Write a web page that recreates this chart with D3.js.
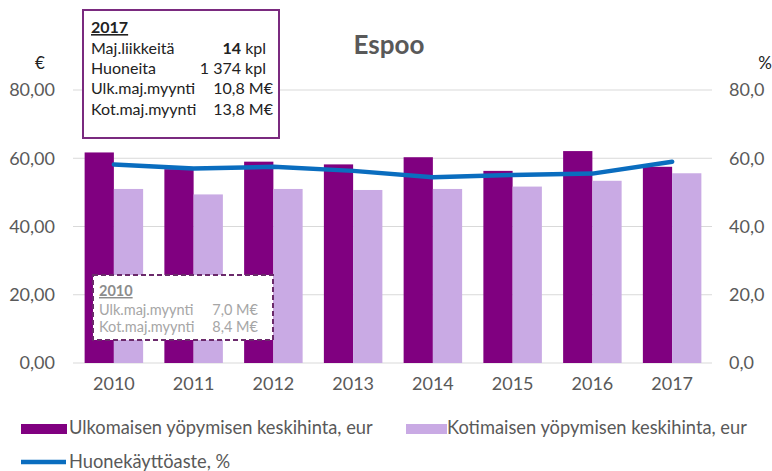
<!DOCTYPE html>
<html><head><meta charset="utf-8">
<script src="https://cdn.jsdelivr.net/npm/d3@7/dist/d3.min.js"></script>
<style>
body{margin:0;background:#fff;}
svg text{font-family:Lato,"Open Sans",sans-serif;}
</style></head>
<body><svg id="c" width="772" height="471"></svg>
<script>
const years = ["2010","2011","2012","2013","2014","2015","2016","2017"];
const foreignPrice = [61.7, 56.8, 59.0, 58.2, 60.3, 56.3, 62.1, 57.5];
const domesticPrice = [51.0, 49.4, 51.0, 50.7, 51.0, 51.7, 53.4, 55.6];
const occupancy = [58.2, 57.0, 57.5, 56.3, 54.4, 55.1, 55.5, 59.0];
const leftTicks = [0, 20, 40, 60, 80];
const rightTicks = [0, 20, 40, 60, 80];
const seriesNames = ["Ulkomaisen yöpymisen keskihinta, eur", "Kotimaisen yöpymisen keskihinta, eur", "Huonekäyttöaste, %"];
const box2017 = [["Maj.liikkeitä", "14", " kpl"], ["Huoneita", "", "1 374 kpl"], ["Ulk.maj.myynti", "", "10,8 M€"], ["Kot.maj.myynti", "", "13,8 M€"]];
const box2010 = [["Ulk.maj.myynti", "7,0 M€"], ["Kot.maj.myynti", "8,4 M€"]];

const svg = d3.select("#c");
const loc = d3.formatLocale({decimal: ",", thousands: "\u00a0", grouping: [3], currency: ["", "€"]});
const fmtL = loc.format(".2f"), fmtR = loc.format(".1f");

const X0 = 74, X1 = 712;
const x0 = d3.scaleBand().domain(years).range([X0, X1]).paddingInner(0.2665).paddingOuter(0.13325);
const x1 = d3.scaleBand().domain(["f", "d"]).range([0, x0.bandwidth()]);
const y = d3.scaleLinear().domain([0, 80]).range([363, 90]);
const yR = d3.scaleLinear().domain([0, 80]).range([363, 90]);

const gray = "#595959";
// gridlines
svg.append("g").selectAll("line").data(leftTicks).join("line")
  .attr("x1", 73).attr("x2", X1).attr("y1", d => y(d)).attr("y2", d => y(d))
  .attr("stroke", "#d9d9d9").attr("stroke-width", 1.2);

// axes
const ga = svg.append("g").attr("transform", `translate(${X0 - 1},0)`)
  .call(d3.axisLeft(y).tickValues(leftTicks).tickFormat(fmtL).tickSize(0).tickPadding(18));
ga.select(".domain").remove();
ga.selectAll("text").attr("fill", gray).style("font-size", "18px").style("font-family", "Lato");
const gb = svg.append("g").attr("transform", `translate(${X1},0)`)
  .call(d3.axisRight(yR).tickValues(rightTicks).tickFormat(fmtR).tickSize(0).tickPadding(17));
gb.select(".domain").remove();
gb.selectAll("text").attr("fill", gray).style("font-size", "18px").style("font-family", "Lato");

// bars
const bars = svg.append("g");
years.forEach((yr, i) => {
  bars.append("rect").attr("x", x0(yr) + x1("f")).attr("width", x1.bandwidth())
    .attr("y", y(foreignPrice[i])).attr("height", y(0) - y(foreignPrice[i])).attr("fill", "#800080");
  bars.append("rect").attr("x", x0(yr) + x1("d")).attr("width", x1.bandwidth())
    .attr("y", y(domesticPrice[i])).attr("height", y(0) - y(domesticPrice[i])).attr("fill", "#c9aae4");
});

// x labels
const gx = svg.append("g").attr("transform", `translate(0,${y(0)})`)
  .call(d3.axisBottom(x0).tickSize(0).tickPadding(14));
gx.select(".domain").remove();
gx.selectAll("text").attr("fill", gray).style("font-size", "18px").style("font-family", "Lato");

// line
const line = d3.line().x((d, i) => x0(years[i]) + x0.bandwidth() / 2).y(d => yR(d));
svg.append("path").datum(occupancy).attr("d", line).attr("fill", "none")
  .attr("stroke", "#0a6dbf").attr("stroke-width", 4.5).attr("stroke-linecap", "round").attr("stroke-linejoin", "round");

// title + units
svg.append("text").attr("x", 389).attr("y", 54).attr("text-anchor", "middle")
  .attr("fill", gray).style("font-size", "26px").style("font-weight", "bold").text("Espoo");
svg.append("text").attr("x", 40).attr("y", 69).attr("text-anchor", "middle").attr("fill", "#222").style("font-size", "17px").text("€");
svg.append("text").attr("x", 765).attr("y", 69).attr("text-anchor", "middle").attr("fill", "#222").style("font-size", "17px").text("%");

// info box 2017
const b1 = svg.append("g");
b1.append("rect").attr("x", 83).attr("y", 10).attr("width", 196).attr("height", 128)
  .attr("fill", "#fff").attr("stroke", "#7a2a7f").attr("stroke-width", 2);
b1.append("text").attr("x", 91).attr("y", 33).attr("fill", "#222").style("font-size", "16px")
  .style("font-weight", "bold").style("text-decoration", "underline").text("2017");
box2017.forEach((r, i) => {
  const yy = 54 + i * 20.2;
  b1.append("text").attr("x", 91).attr("y", yy).attr("fill", "#222").style("font-size", "16px").text(r[0]);
  const t = b1.append("text").attr("x", r[2].includes("M€") ? 273 : 266).attr("y", yy).attr("text-anchor", "end")
    .attr("fill", "#222").style("font-size", "16px");
  if (r[1]) t.append("tspan").style("font-weight", "bold").text(r[1]);
  t.append("tspan").text(r[2]);
});

// info box 2010
const b2 = svg.append("g");
b2.append("rect").attr("x", 93).attr("y", 275).attr("width", 180).attr("height", 65)
  .attr("fill", "#fff").attr("stroke", "#6b2a6b").attr("stroke-width", 2).attr("stroke-dasharray", "5,3");
b2.append("text").attr("x", 99).attr("y", 296).attr("fill", "#8c8c8c").style("font-size", "14.5px")
  .style("font-weight", "bold").style("text-decoration", "underline").text("2010");
box2010.forEach((r, i) => {
  const yy = 315 + i * 17;
  b2.append("text").attr("x", 99).attr("y", yy).attr("fill", "#a6a6a6").style("font-size", "14.5px").text(r[0]);
  b2.append("text").attr("x", 258).attr("y", yy).attr("text-anchor", "end").attr("fill", "#a6a6a6").style("font-size", "14.5px").text(r[1]);
});

// legend
const lg = svg.append("g");
lg.append("rect").attr("x", 21).attr("y", 424).attr("width", 46).attr("height", 10).attr("fill", "#800080");
lg.append("text").attr("x", 69).attr("y", 434).attr("fill", gray).style("font-size", "18.3px").text(seriesNames[0]);
lg.append("rect").attr("x", 406).attr("y", 424).attr("width", 41).attr("height", 10).attr("fill", "#c9aae4");
lg.append("text").attr("x", 447).attr("y", 434).attr("fill", gray).style("font-size", "18.3px").text(seriesNames[1]);
lg.append("line").attr("x1", 21).attr("x2", 66).attr("y1", 462).attr("y2", 462).attr("stroke", "#0a6dbf").attr("stroke-width", 4.5);
lg.append("text").attr("x", 69).attr("y", 468).attr("fill", gray).style("font-size", "18.3px").text(seriesNames[2]);
</script></body></html>
